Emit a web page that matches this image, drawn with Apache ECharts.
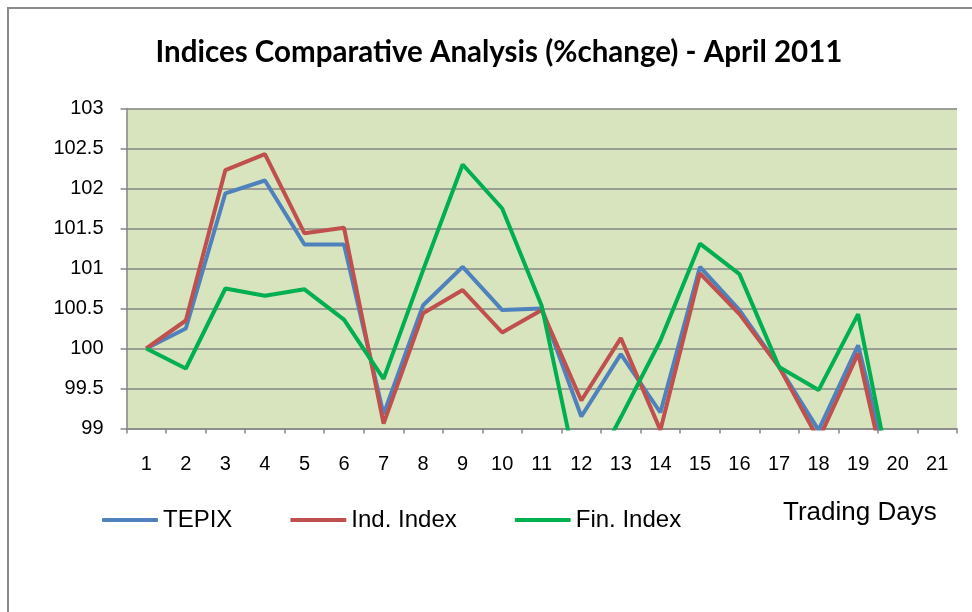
<!DOCTYPE html>
<html>
<head>
<meta charset="utf-8">
<title>Indices Comparative Analysis</title>
<script src="https://cdn.jsdelivr.net/npm/echarts@6/dist/echarts.min.js"></script>
<style>
  html, body { margin: 0; padding: 0; background: #fff; }
  #main { width: 972px; height: 612px; }
</style>
</head>
<body>
<div id="main"></div>
<script>
// trading days of April 2011
const days = ['1', '2', '3', '4', '5', '6', '7', '8', '9', '10', '11',
  '12', '13', '14', '15', '16', '17', '18', '19', '20', '21'];

// index levels (base = 100)
const tepix = [100, 100.25, 101.94, 102.1, 101.3, 101.3, 99.18, 100.54, 101.02, 100.48, 100.5,
  99.15, 99.93, 99.2, 101.02, 100.48, 99.77, 98.98, 100.04, 98.02, null];
const indIndex = [100, 100.35, 102.23, 102.43, 101.44, 101.51, 99.06, 100.44, 100.73, 100.2, 100.48,
  99.35, 100.13, 98.98, 100.94, 100.43, 99.77, 98.86, 99.94, 97.75, null];
const finIndex = [100, 99.75, 100.75, 100.66, 100.74, 100.36, 99.62, 100.98, 102.3, 101.75, 100.53,
  98.2, 99.14, 100.1, 101.31, 100.93, 99.77, 99.48, 100.43, 97.96, null];

const seriesNames = ['TEPIX', 'Ind. Index', 'Fin. Index'];
const seriesColors = ['#4f81bd', '#c0504d', '#00b050'];

const chart = echarts.init(document.getElementById('main'), null, { renderer: 'canvas' });

const lineSeries = (name, data, color) => ({
  name: name,
  type: 'line',
  data: data,
  symbol: 'none',
  showSymbol: false,
  clip: true,
  connectNulls: false,
  lineStyle: { color: color, width: 4 },
  itemStyle: { color: color }
});

const option = {
  animation: false,
  backgroundColor: '#ffffff',
  title: {
    text: 'Indices Comparative Analysis (%change) - April 2011',
    left: 494,
    textAlign: 'center',
    top: 32,
    textStyle: {
      fontFamily: 'Lato',
      fontWeight: 'bold',
      fontSize: 29.5,
      color: '#000'
    }
  },
  color: seriesColors,
  legend: {
    left: 97,
    top: 503,
    itemWidth: 56,
    itemHeight: 4,
    itemGap: 58,
    icon: 'roundRect',
    data: seriesNames,
    textStyle: {
      fontFamily: 'Liberation Sans',
      fontSize: 24,
      color: '#000'
    }
  },
  grid: {
    left: 126.5,
    right: 15,
    top: 108.5,
    bottom: 183.5,
    show: true,
    backgroundColor: '#d7e4bd',
    borderWidth: 0
  },
  xAxis: {
    type: 'category',
    data: days,
    boundaryGap: true,
    axisLine: { lineStyle: { color: '#868686', width: 1.5 } },
    axisTick: { show: true, length: 5, lineStyle: { color: '#868686', width: 1.5 } },
    axisLabel: {
      margin: 26,
      fontFamily: 'Liberation Sans',
      fontSize: 20,
      color: '#000'
    },
    splitLine: { show: false }
  },
  yAxis: {
    type: 'value',
    min: 99,
    max: 103,
    interval: 0.5,
    axisLine: { show: true, lineStyle: { color: '#868686', width: 1.5 } },
    axisTick: { show: true, length: 6, lineStyle: { color: '#868686', width: 1.5 } },
    axisLabel: {
      margin: 23,
      padding: [3, 0, 0, 0],
      fontFamily: 'Liberation Sans',
      fontSize: 20,
      color: '#000'
    },
    splitLine: { show: true, lineStyle: { color: '#868686', width: 1.5 } }
  },
  graphic: [
    {
      type: 'rect',
      shape: { x: 8, y: 8, width: 1000, height: 700 },
      style: { fill: 'none', stroke: '#8a8a8a', lineWidth: 2 },
      silent: true
    },
    {
      type: 'text',
      left: 783,
      top: 500,
      style: {
        text: 'Trading Days',
        fontFamily: 'Liberation Sans',
        fontSize: 26,
        fill: '#000'
      }
    }
  ],
  series: [
    lineSeries(seriesNames[0], tepix, seriesColors[0]),
    lineSeries(seriesNames[1], indIndex, seriesColors[1]),
    lineSeries(seriesNames[2], finIndex, seriesColors[2])
  ]
};

chart.setOption(option);
</script>
</body>
</html>
